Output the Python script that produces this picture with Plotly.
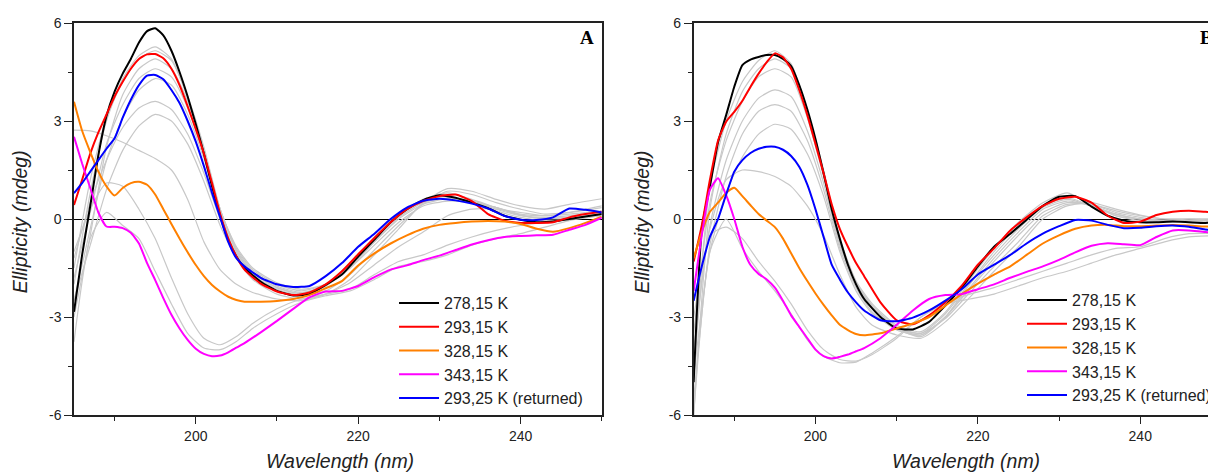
import plotly.graph_objects as go

# ---------------- data ----------------
WL = [185,186,187,188,189,190,191,192,193,194,195,196,197,198,199,200,201,202,203,204,205,206,
      208,210,212,214,216,218,220,222,224,226,228,230,232,234,236,238,240,242,244,246,248,250]
GWL = [185,187,189,191,193,195,197,199,201,203,205,207,210,213,216,219,222,225,228,231,234,237,240,243,246,250]

LABELS = ["278,15 K", "293,15 K", "328,15 K", "343,15 K", "293,25 K (returned)"]
COLORS = ["#000000", "#ff0000", "#ff8000", "#ff00ff", "#0000ff"]

# Panel A
A_278 = [-2.84,-1.1,0.4,1.95,3.15,3.9,4.45,4.9,5.4,5.75,5.84,5.62,5.15,4.5,3.75,2.9,2.0,1.0,0.1,-0.65,-1.15,-1.5,
         -1.92,-2.2,-2.34,-2.3,-2.02,-1.7,-1.15,-0.63,-0.1,0.3,0.58,0.73,0.65,0.5,0.33,0.1,-0.02,-0.1,-0.08,0.0,0.08,0.15]
A_293 = [0.43,1.2,2.0,2.65,3.2,3.75,4.2,4.6,4.9,5.04,5.05,4.92,4.6,4.1,3.45,2.75,2.0,1.1,0.15,-0.6,-1.15,-1.55,
         -1.98,-2.22,-2.33,-2.25,-2.0,-1.6,-1.08,-0.58,-0.1,0.3,0.55,0.7,0.75,0.55,0.15,-0.05,-0.12,-0.12,-0.1,0.05,0.15,0.22]
A_328 = [3.59,2.7,2.05,1.45,1.0,0.72,0.95,1.1,1.14,1.05,0.75,0.3,-0.15,-0.6,-1.02,-1.41,-1.75,-2.02,-2.22,-2.38,-2.48,-2.53,
         -2.53,-2.51,-2.45,-2.33,-2.12,-1.9,-1.42,-1.05,-0.75,-0.5,-0.3,-0.18,-0.12,-0.08,-0.06,-0.08,-0.15,-0.3,-0.39,-0.28,-0.12,0.07]
A_343 = [2.52,1.7,0.95,0.2,-0.23,-0.24,-0.28,-0.42,-0.75,-1.35,-1.87,-2.42,-2.93,-3.35,-3.7,-3.97,-4.13,-4.2,-4.18,-4.08,-3.94,-3.8,
         -3.47,-3.12,-2.75,-2.4,-2.22,-2.2,-2.05,-1.78,-1.55,-1.42,-1.26,-1.12,-0.95,-0.78,-0.65,-0.55,-0.52,-0.5,-0.48,-0.33,-0.18,0.04]
A_ret = [0.79,1.1,1.45,1.8,2.15,2.47,3.1,3.65,4.1,4.39,4.41,4.28,3.95,3.55,3.0,2.37,1.62,0.8,0.05,-0.7,-1.2,-1.45,
         -1.8,-2.0,-2.08,-2.05,-1.75,-1.35,-0.85,-0.45,0.0,0.35,0.56,0.62,0.57,0.47,0.32,0.1,-0.02,-0.03,0.05,0.32,0.28,0.2]

A_GRAY = [
    [-2.0,0.8,3.0,4.3,5.0,5.27,4.9,3.7,2.1,0.2,-1.1,-1.7,-2.15,-2.32,-2.05,-1.4,-0.6,0.1,0.55,0.7,0.5,0.25,0.05,-0.05,0.0,0.12],
    [-1.5,1.2,3.1,4.2,4.9,5.15,4.85,3.75,2.2,0.3,-1.0,-1.65,-2.1,-2.28,-2.0,-1.35,-0.55,0.15,0.6,0.8,0.6,0.35,0.12,0.0,0.05,0.15],
    [-3.0,-0.5,2.2,3.8,4.6,4.9,4.6,3.6,2.1,0.3,-0.95,-1.6,-2.05,-2.25,-2.05,-1.5,-0.7,0.05,0.5,0.65,0.55,0.3,0.1,0.02,0.05,0.15],
    [-1.8,0.2,2.3,3.5,4.3,4.6,4.35,3.4,2.0,0.3,-0.9,-1.55,-2.0,-2.2,-2.0,-1.45,-0.7,0.0,0.45,0.62,0.55,0.35,0.12,0.05,0.1,0.2],
    [-2.5,-0.3,1.8,3.1,3.95,4.3,4.1,3.2,1.85,0.25,-0.85,-1.5,-1.95,-2.15,-2.0,-1.5,-0.8,-0.1,0.4,0.55,0.5,0.35,0.15,0.1,0.15,0.25],
    [-1.2,0.5,1.8,2.8,3.4,3.6,3.35,2.6,1.4,0.0,-1.05,-1.65,-2.1,-2.3,-2.2,-1.7,-0.95,-0.2,0.45,0.85,0.75,0.5,0.3,0.15,0.2,0.35],
    [-2.5,-0.8,0.9,2.1,2.85,3.2,3.0,2.3,1.15,-0.2,-1.2,-1.85,-2.3,-2.45,-2.3,-1.85,-1.1,-0.3,0.5,0.93,0.85,0.6,0.4,0.3,0.45,0.62],
    [2.72,2.7,2.55,2.35,2.1,1.85,1.5,0.6,-0.7,-1.55,-2.0,-2.25,-2.45,-2.5,-2.3,-1.95,-1.4,-0.85,-0.4,0.1,0.3,0.3,0.2,0.1,0.2,0.4],
    [-1.0,0.3,1.1,1.0,0.3,-0.6,-1.8,-2.9,-3.65,-3.85,-3.6,-3.2,-2.75,-2.45,-2.3,-2.15,-1.7,-1.3,-1.1,-0.8,-0.55,-0.35,-0.2,-0.1,0.0,0.15],
    [-3.76,-0.6,0.2,-0.2,-0.6,-1.6,-2.6,-3.5,-3.95,-4.0,-3.75,-3.35,-2.9,-2.55,-2.35,-2.2,-1.85,-1.45,-1.3,-1.1,-0.8,-0.6,-0.45,-0.25,-0.05,0.1],
]

# Panel B
B_278 = [-5.0,-0.3,1.0,2.35,3.18,4.05,4.71,4.88,4.96,5.02,5.02,4.9,4.68,4.1,3.35,2.45,1.4,0.3,-0.6,-1.4,-2.0,-2.45,
         -3.0,-3.35,-3.38,-3.15,-2.65,-2.1,-1.45,-0.85,-0.45,-0.02,0.4,0.68,0.7,0.38,0.1,-0.05,-0.1,-0.1,-0.08,-0.1,-0.12,-0.1]
B_293 = [-1.3,-0.2,1.2,2.4,2.98,3.28,3.62,4.05,4.45,4.8,5.07,4.95,4.6,3.95,3.18,2.3,1.4,0.45,-0.3,-0.85,-1.35,-1.75,
         -2.55,-3.1,-3.22,-2.95,-2.55,-2.05,-1.4,-0.9,-0.35,0.05,0.4,0.62,0.68,0.5,0.1,-0.12,-0.08,0.12,0.22,0.25,0.22,0.2]
B_328 = [-1.2,-0.4,0.22,0.5,0.8,0.96,0.7,0.42,0.15,-0.05,-0.25,-0.6,-1.05,-1.5,-1.9,-2.28,-2.63,-2.95,-3.24,-3.4,-3.52,-3.56,
         -3.5,-3.35,-3.2,-3.0,-2.65,-2.3,-1.98,-1.7,-1.45,-1.1,-0.75,-0.5,-0.3,-0.2,-0.18,-0.22,-0.22,-0.2,-0.18,-0.2,-0.23,-0.23]
B_343 = [-2.2,-0.5,0.9,1.25,0.73,0.0,-0.85,-1.41,-1.68,-1.85,-2.1,-2.5,-2.95,-3.3,-3.65,-4.0,-4.2,-4.27,-4.22,-4.15,-4.05,-3.95,
         -3.65,-3.24,-2.8,-2.45,-2.33,-2.3,-2.15,-2.0,-1.8,-1.62,-1.45,-1.25,-1.02,-0.82,-0.74,-0.77,-0.8,-0.55,-0.35,-0.35,-0.4,-0.42]
B_ret = [-2.5,-1.45,-0.55,0.0,0.75,1.45,1.8,2.02,2.15,2.21,2.21,2.12,1.93,1.6,1.05,0.3,-0.55,-1.4,-1.85,-2.25,-2.55,-2.8,
         -3.1,-3.13,-3.02,-2.8,-2.5,-2.15,-1.7,-1.4,-1.1,-0.75,-0.45,-0.22,-0.03,-0.05,-0.18,-0.28,-0.27,-0.22,-0.2,-0.24,-0.32,-0.35]

B_GRAY = [
    [-4.5,1.0,3.0,4.2,4.85,5.15,4.75,3.3,1.5,-0.6,-1.9,-2.6,-3.25,-3.45,-2.85,-1.85,-0.9,-0.1,0.5,0.8,0.45,0.1,0.0,-0.05,-0.05,-0.05],
    [-6.0,0.3,2.6,3.9,4.6,4.9,4.6,3.3,1.4,-0.7,-1.95,-2.65,-3.3,-3.5,-2.9,-1.95,-1.0,-0.2,0.4,0.65,0.4,0.1,-0.05,-0.1,-0.05,-0.05],
    [-3.5,0.5,2.4,3.6,4.35,4.6,4.35,3.1,1.3,-0.7,-1.95,-2.7,-3.35,-3.6,-3.0,-2.0,-1.1,-0.3,0.35,0.6,0.4,0.15,0.0,-0.05,0.0,0.0],
    [-4.0,-0.2,1.8,3.0,3.7,3.95,3.75,2.7,1.1,-0.8,-2.0,-2.75,-3.35,-3.55,-3.0,-2.1,-1.2,-0.4,0.3,0.55,0.4,0.15,0.0,-0.05,-0.05,-0.05],
    [-5.5,-0.8,1.3,2.6,3.3,3.5,3.3,2.4,0.9,-0.9,-2.1,-2.85,-3.4,-3.55,-3.0,-2.15,-1.3,-0.5,0.2,0.5,0.45,0.2,0.05,-0.05,-0.05,-0.05],
    [-4.8,-1.0,0.8,1.9,2.6,2.9,2.75,2.0,0.7,-1.0,-2.2,-2.9,-3.35,-3.5,-3.05,-2.25,-1.45,-0.7,0.1,0.45,0.45,0.25,0.1,0.0,0.0,-0.05],
    [-3.0,-0.3,1.2,1.5,1.45,1.3,1.0,0.4,-0.5,-1.7,-2.7,-3.25,-3.55,-3.65,-3.15,-2.4,-1.6,-0.85,0.0,0.4,0.5,0.3,0.12,0.0,0.0,-0.05],
    [-5.0,-0.5,-0.25,-0.6,-1.3,-1.9,-2.6,-3.4,-4.0,-4.3,-4.35,-4.15,-3.65,-3.0,-2.55,-2.3,-2.1,-1.85,-1.6,-1.35,-1.1,-0.9,-0.85,-0.6,-0.45,-0.45],
    [-6.0,-1.0,0.0,-0.9,-1.6,-2.2,-2.9,-3.7,-4.2,-4.4,-4.38,-4.1,-3.6,-3.0,-2.6,-2.45,-2.3,-2.05,-1.8,-1.6,-1.35,-1.1,-0.9,-0.7,-0.55,-0.5],
]

X_TICKS = [200, 220, 240]
X_MINOR = [190, 210, 230, 250]
Y_TICKS = [-6, -3, 0, 3, 6]
Y_TICKTEXT = ["-6", "-3", "0", "3", "6"]
Y_MINOR = [-4.5, -1.5, 1.5, 4.5]

# ---------------- layout geometry (reference page pixels) ----------------
PAGE_W, PAGE_H = 1216, 472
OFF = 8                      # default body margin of the page
W, H = PAGE_W - OFF, PAGE_H - OFF
PLOT_L, PLOT_T, PLOT_B = 74, 23, 415     # page pixels
A_RIGHT = 605
B_LEFT = 697.5
ML, MT = PLOT_L - OFF, PLOT_T - OFF
MB = PAGE_H - PLOT_B
MR = 0
PW, PH = W - ML - MR, H - MT - MB
PX_PER_NM = (A_RIGHT - PLOT_L) / 65.0


def fx(px):
    return (px - PLOT_L) / PW


def fy(py):
    return 1 - (py - PLOT_T) / PH


FONT = "Arial, 'Liberation Sans', sans-serif"
TXT = "#222222"

fig = go.Figure()

GRAY = "#c8c8c8"
for g in A_GRAY:
    fig.add_trace(go.Scatter(x=GWL, y=g, mode="lines", xaxis="x", yaxis="y", showlegend=False,
                             hoverinfo="skip", line=dict(color=GRAY, width=1.2, shape="spline", smoothing=0.6)))
for g in B_GRAY:
    fig.add_trace(go.Scatter(x=GWL, y=g, mode="lines", xaxis="x2", yaxis="y2", showlegend=False,
                             hoverinfo="skip", line=dict(color=GRAY, width=1.2, shape="spline", smoothing=0.6)))

for lab, col, ys in zip(LABELS, COLORS, [A_278, A_293, A_328, A_343, A_ret]):
    fig.add_trace(go.Scatter(x=WL, y=ys, mode="lines", name=lab, xaxis="x", yaxis="y", legend="legend",
                             line=dict(color=col, width=2, shape="spline", smoothing=0.5)))
for lab, col, ys in zip(LABELS, COLORS, [B_278, B_293, B_328, B_343, B_ret]):
    fig.add_trace(go.Scatter(x=WL, y=ys, mode="lines", name=lab, xaxis="x2", yaxis="y2", legend="legend2",
                             line=dict(color=col, width=2, shape="spline", smoothing=0.5)))

axis_line = dict(showline=True, linecolor=TXT, linewidth=1.5, showgrid=False, ticks="outside",
                 tickcolor=TXT, tickwidth=1.2, tickfont=dict(family=FONT, size=14, color=TXT))

xcommon = dict(axis_line, tickvals=X_TICKS, ticklen=7, zeroline=False,
               minor=dict(ticks="outside", ticklen=4, tickvals=X_MINOR, tickcolor=TXT, tickwidth=1.2))
ycommon = dict(axis_line, range=[-6, 6], tickvals=Y_TICKS, ticktext=Y_TICKTEXT, ticklen=8,
               zeroline=True, zerolinecolor="#000000", zerolinewidth=1.3,
               minor=dict(ticks="outside", ticklen=4, tickvals=Y_MINOR, tickcolor=TXT, tickwidth=1.2))

LEG_FONT = dict(family=FONT, size=16, color=TXT)
fig.update_layout(
    width=W, height=H,
    margin=dict(l=ML, r=MR, t=MT, b=MB, pad=0),
    paper_bgcolor="white", plot_bgcolor="white",
    xaxis=dict(xcommon, domain=[0, fx(A_RIGHT)], range=[185, 250], mirror=True, anchor="y"),
    yaxis=dict(ycommon, domain=[0, 1], mirror=True, anchor="x"),
    xaxis2=dict(xcommon, domain=[fx(B_LEFT), 1], range=[185, 185 + (PAGE_W - B_LEFT) / PX_PER_NM],
                mirror=True, anchor="y2"),
    yaxis2=dict(ycommon, domain=[0, 1], mirror=False, anchor="x2"),
    legend=dict(x=fx(396), y=fy(286), xanchor="left", yanchor="top", bgcolor="rgba(0,0,0,0)",
                font=LEG_FONT, itemwidth=40, tracegroupgap=0),
    legend2=dict(x=fx(1028), y=fy(283), xanchor="left", yanchor="top", bgcolor="rgba(0,0,0,0)",
                 font=LEG_FONT, itemwidth=40, tracegroupgap=0),
    showlegend=True,
)

ann = []
title_font = dict(family=FONT, size=19.5, color=TXT)
ann.append(dict(text="<i>Wavelength (nm)</i>", x=fx(342), y=fy(461), xref="paper", yref="paper",
                showarrow=False, font=title_font, xanchor="center", yanchor="middle"))
ann.append(dict(text="<i>Wavelength (nm)</i>", x=fx(972), y=fy(461), xref="paper", yref="paper",
                showarrow=False, font=title_font, xanchor="center", yanchor="middle"))
ann.append(dict(text="<i>Ellipticity (mdeg)</i>", x=fx(20), y=fy(222), xref="paper", yref="paper", textangle=-90,
                showarrow=False, font=title_font, xanchor="center", yanchor="middle"))
ann.append(dict(text="<i>Ellipticity (mdeg)</i>", x=fx(645), y=fy(222), xref="paper", yref="paper", textangle=-90,
                showarrow=False, font=title_font, xanchor="center", yanchor="middle"))
panel_font = dict(family="'Liberation Serif', 'Times New Roman', serif", size=19, color="#000000")
ann.append(dict(text="<b>A</b>", x=fx(590), y=fy(38), xref="paper", yref="paper", showarrow=False,
                font=panel_font, xanchor="center", yanchor="middle"))
ann.append(dict(text="<b>B</b>", x=fx(1205), y=fy(38), xref="paper", yref="paper", showarrow=False,
                font=panel_font, xanchor="left", yanchor="middle"))
fig.update_layout(annotations=ann)

fig.write_html("out.html")
